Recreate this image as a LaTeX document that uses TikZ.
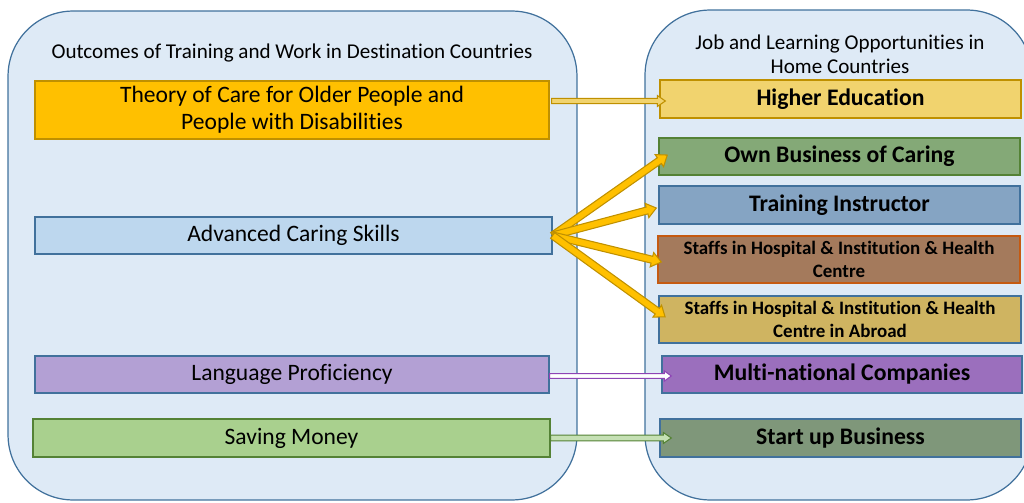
\documentclass[tikz,border=0pt]{standalone}
\usepackage{fontspec}
\setmainfont{Carlito}[Ligatures=NoCommon]
\usetikzlibrary{calc}

\definecolor{panelfill}{HTML}{DEEAF6}
\definecolor{panelline}{HTML}{41719C}
\definecolor{gold}{HTML}{BF9000}
\definecolor{amber}{HTML}{FFC000}
\definecolor{sand}{HTML}{F1D36E}
\definecolor{skyfill}{HTML}{BDD7EE}
\definecolor{lilac}{HTML}{B3A0D4}
\definecolor{leaf}{HTML}{A9D08E}
\definecolor{leafline}{HTML}{548235}
\definecolor{mint}{HTML}{C5E0B4}
\definecolor{sage}{HTML}{84A977}
\definecolor{steel}{HTML}{85A4C3}
\definecolor{clay}{HTML}{A47A5C}
\definecolor{clayline}{HTML}{C55A11}
\definecolor{ochre}{HTML}{CFB461}
\definecolor{violet}{HTML}{9B6FBD}
\definecolor{violetline}{HTML}{8E44B5}
\definecolor{moss}{HTML}{7F977A}

% block arrow: style, from, to, half shaft, half head, head length (pt)
\newcommand{\blockarrow}[6]{%
	\draw[#1] let \p1=($(#3)-(#2)$), \n1={atan2(\y1,\x1)}, \n2={veclen(\x1,\y1)} in
		[shift={(#2)}, rotate=\n1]
		(0pt,-#4pt) -- ({\n2-#6pt},-#4pt) -- ({\n2-#6pt},-#5pt) -- (\n2,0pt)
		-- ({\n2-#6pt},#5pt) -- ({\n2-#6pt},#4pt) -- (0pt,#4pt) -- cycle;
}

\begin{document}
\begin{tikzpicture}[x=0.02cm,y=-0.02cm,
	panel/.style={draw=panelline, fill=panelfill, line width=0.7pt, rounded corners=1.3cm, inner sep=0pt},
	outbox/.style={draw, line width=0.8pt, inner sep=0pt, minimum width=10.28cm, minimum height=0.74cm, align=center, font=\fontsize{13.4}{15.3}\selectfont},
	jobbox/.style={draw, line width=0.8pt, inner sep=0pt, minimum width=7.22cm, minimum height=0.76cm, align=center, font=\bfseries\fontsize{13.5}{15}\selectfont},
	staffbox/.style={jobbox, minimum height=0.94cm, font=\bfseries\fontsize{10.8}{13}\selectfont},
	title/.style={align=center, font=\fontsize{12}{13.6}\selectfont}]
	\useasboundingbox (0,0) rectangle (1024,503);

	\node[panel, minimum width=11.38cm, minimum height=9.78cm] (outcomes) at (292.5,255.5) {};
	\node[panel, minimum width=7.74cm, minimum height=9.8cm] (home) at (838.5,255) {};
	\node[title] (outtitle) at (292,53) {Outcomes of Training and Work in Destination Countries};
	\node[title] (hometitle) at (840,54) {Job and Learning Opportunities in\\Home Countries};

	\node[outbox, draw=gold, fill=amber, minimum height=1.16cm] (theory) at (292,110) {Theory of Care for Older People and\\People with Disabilities};
	\node[outbox, draw=panelline, fill=skyfill, minimum width=10.34cm] (adv) at (293.5,235.5) {Advanced Caring Skills};
	\node[outbox, draw=panelline, fill=lilac] (lang) at (292,374.5) {Language Proficiency};
	\node[outbox, draw=leafline, fill=leaf, minimum width=10.34cm, minimum height=0.76cm] (save) at (291.5,438) {Saving Money};

	\node[jobbox, draw=gold, fill=sand] (higher) at (840.5,99) {Higher Education};
	\node[jobbox, draw=leafline, fill=sage, minimum height=0.74cm] (own) at (839.5,156.5) {Own Business of Caring};
	\node[jobbox, draw=panelline, fill=steel] (instr) at (839.5,205) {Training Instructor};
	\node[staffbox, draw=clayline, fill=clay, minimum width=7.24cm] (staff) at (839,259.5) {Staffs in Hospital \& Institution \& Health\\Centre};
	\node[staffbox, draw=panelline, fill=ochre, minimum width=7.24cm] (abroad) at (840,319.5) {Staffs in Hospital \& Institution \& Health\\Centre in Abroad};
	\node[jobbox, draw=panelline, fill=violet, minimum width=7.2cm, minimum height=0.74cm] (multi) at (842,374.5) {Multi-national Companies};
	\node[jobbox, draw=panelline, fill=moss] (startup) at (840.5,438) {Start up Business};

	\path (theory.east |- higher.west) ++(2,2) coordinate (theoryout);
	\path (higher.west) ++(6,2) coordinate (higherin);
	\coordinate (advout) at (adv.east);
	\path (own.west) ++(9,-1.5) coordinate (ownin);
	\path (instr.west) ++(-2,3) coordinate (instrin);
	\path (staff.west) ++(4,2.5) coordinate (staffin);
	\path (abroad.west) ++(7,-2.5) coordinate (abroadin);
	\path (lang.east) ++(0,1.5) coordinate (langout);
	\path (multi.west) ++(10,1.5) coordinate (multiin);
	\coordinate (saveout) at (save.east);
	\path (startup.west) ++(12,0) coordinate (startin);

	\blockarrow{draw=gold, fill=sand, line width=0.6pt}{theoryout}{higherin}{1.5}{3.1}{4.5}
	\foreach \j in {ownin,instrin,staffin,abroadin}{
		\blockarrow{draw=gold, fill=amber, line width=0.6pt}{advout}{\j}{2}{4.2}{5.5}
	}
	\blockarrow{draw=violetline, fill=white, line width=0.6pt}{langout}{multiin}{1.4}{2.9}{4}
	\blockarrow{draw=leafline, fill=mint, line width=0.6pt}{saveout}{startin}{1.6}{3.1}{4.5}
\end{tikzpicture}
\end{document}
